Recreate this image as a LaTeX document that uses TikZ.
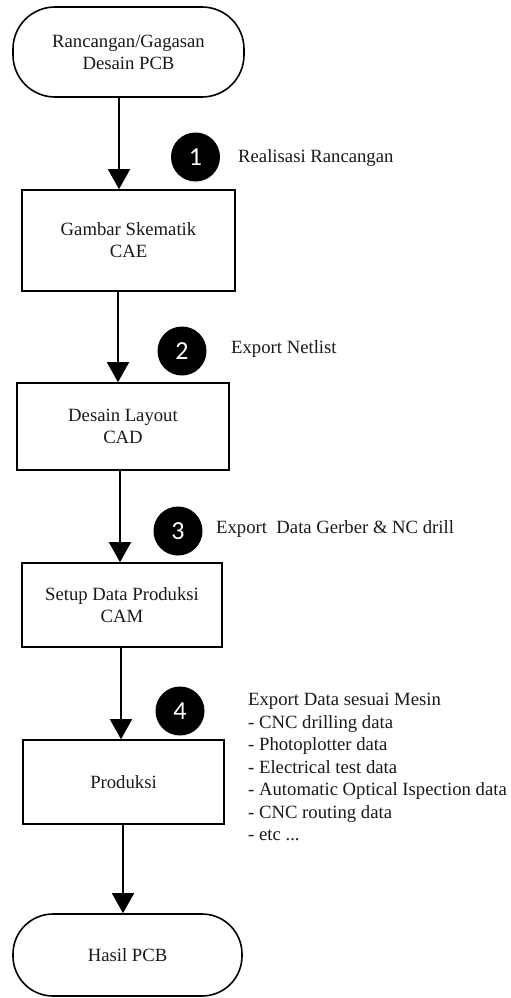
\documentclass[tikz,border=0pt]{standalone}
\usepackage{fontspec}
\setmainfont{Liberation Serif}
\newfontfamily\numfont{Carlito}
\usetikzlibrary{arrows.meta}
\definecolor{txt}{HTML}{1A1A1A}
\tikzset{
  base/.style={draw=black, line width=1.6pt, align=center, text=txt, font=\fontsize{18.7}{22}\selectfont, inner sep=0pt},
  term/.style={base, rounded corners=42pt},
  procbox/.style={base},
  arr/.style={line width=1.6pt, -{Triangle[width=22pt,length=20pt]}},
  badge/.style={circle, fill=black, minimum size=49pt, inner sep=0pt, text=white, font=\numfont\fontsize{26}{26}\selectfont},
  lbl/.style={anchor=west, text=txt, font=\fontsize{18.7}{22.5}\selectfont, inner sep=0pt, align=left}
}
\begin{document}
\begin{tikzpicture}[x=1pt,y=-1pt]
\useasboundingbox[fill=white] (0,0) rectangle (511,998);
\node[term, minimum width=231pt, minimum height=90pt] (start) at (128.5,52) {Rancangan/Gagasan\\Desain PCB};
\node[procbox, minimum width=213pt, minimum height=101pt] (b1) at (128.5,240.5) {Gambar Skematik\\CAE};
\node[procbox, minimum width=212pt, minimum height=87pt] (b2) at (123,426.5) {Desain Layout\\CAD};
\node[procbox, minimum width=200pt, minimum height=84pt] (b3) at (122,605) {Setup Data Produksi\\CAM};
\node[procbox, minimum width=201pt, minimum height=84pt] (b4) at (123.5,782) {Produksi};
\node[term, minimum width=229pt, minimum height=82pt, rounded corners=40pt] (end) at (127.5,955) {Hasil PCB};

\draw[arr] (start.south -| 119,0) -- (b1.north -| 119,0);
\draw[arr] (b1.south -| 118,0) -- (b2.north -| 118,0);
\draw[arr] (b2.south -| 120,0) -- (b3.north -| 120,0);
\draw[arr] (b3.south -| 121,0) -- (b4.north -| 121,0);
\draw[arr] (b4.south -| 123,0) -- (end.north -| 123,0);

\node[badge] (n1) at (195.5,157) {1};
\node[badge] (n2) at (182,351) {2};
\node[badge] (n3) at (178,531) {3};
\node[badge] (n4) at (180,711) {4};

\node[lbl] (l1) at (238,158) {Realisasi Rancangan};
\node[lbl] (l2) at (231,349) {Export Netlist};
\node[lbl] (l3) at (216,529) {Export\ \ Data Gerber \& NC drill};
\node[lbl, anchor=north west] (l4) at (248,693) {Export Data sesuai Mesin\\- CNC drilling data\\- Photoplotter data\\- Electrical test data\\- Automatic Optical Ispection data\\- CNC routing data\\- etc ...};
\end{tikzpicture}
\end{document}
